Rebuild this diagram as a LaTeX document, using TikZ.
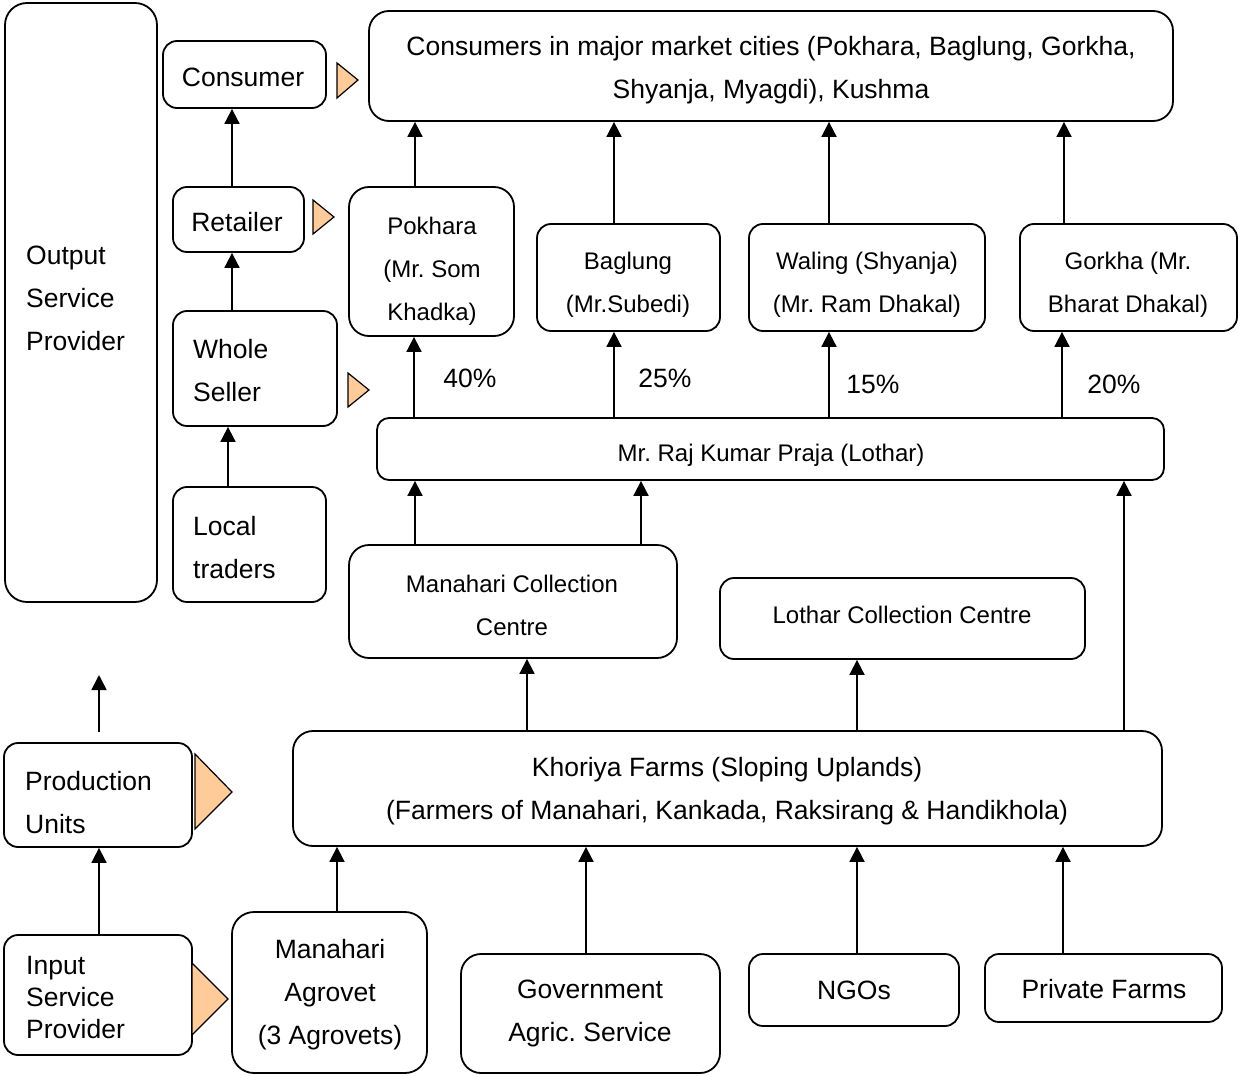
\documentclass[tikz,border=0pt]{standalone}
\usepackage{fontspec}
\setmainfont{Liberation Sans}
\usetikzlibrary{arrows.meta}
\definecolor{tripeach}{RGB}{255,204,153}
\tikzset{
  box/.style={draw, line width=1.8pt, rounded corners=14pt, inner sep=0pt},
  txt/.style={align=center, inner sep=0pt, font=\fontsize{26.5}{43}\selectfont},
  smalltxt/.style={txt, font=\fontsize{24}{43}\selectfont},
  lefttxt/.style={txt, align=left, anchor=west},
  arr/.style={line width=1.8pt, -{Triangle[length=15pt,width=15pt]}},
  marker/.style={draw, line width=1.2pt, fill=tripeach},
}

\begin{document}
\frenchspacing
\begin{tikzpicture}[x=1pt,y=-1pt]
  \useasboundingbox (0,0) rectangle (1238,1075);

  % left column: service providers and traders
  \node [box, rounded corners=22pt, minimum width=152pt, minimum height=599pt] (osp) at (81,302.5) {};
  \node [box, minimum width=163pt, minimum height=67pt] (cons) at (244.5,74.5) {};
  \node [box, minimum width=131pt, minimum height=65pt] (ret) at (238.5,219.5) {};
  \node [box, minimum width=164pt, minimum height=115pt] (whs) at (255,368.5) {};
  \node [box, minimum width=153pt, minimum height=115pt] (lt) at (249.5,544.5) {};
  \node [box, minimum width=188pt, minimum height=104pt] (pu) at (98,795) {};
  \node [box, minimum width=188pt, minimum height=120pt] (isp) at (98,995) {};
  \node [lefttxt] (ospt) at (26,298.5) {Output\\Service\\Provider};
  \node [txt] (const) at (243,77) {Consumer};
  \node [txt] (rett) at (237,222) {Retailer};
  \node [lefttxt] (whst) at (193,370.5) {Whole\\Seller};
  \node [lefttxt] (ltt) at (193,547.5) {Local\\traders};
  \node [lefttxt] (put) at (25,802.5) {Production\\Units};
  \node [lefttxt, font=\fontsize{26.5}{32}\selectfont] (ispt) at (26,997.5) {Input\\Service\\Provider};

  % market and traders
  \node [box, rounded corners=20pt, minimum width=804pt, minimum height=110pt] (mkt) at (771,66) {};
  \node [box, rounded corners=20pt, minimum width=165pt, minimum height=149pt] (pok) at (431.5,261.5) {};
  \node [box, minimum width=183pt, minimum height=107pt] (bag) at (628.5,277.5) {};
  \node [box, minimum width=236pt, minimum height=107pt] (wal) at (867,277.5) {};
  \node [box, minimum width=217pt, minimum height=107pt] (gor) at (1128.5,277.5) {};
  \node [box, rounded corners=12pt, minimum width=787pt, minimum height=62pt] (raj) at (770.5,449) {};
  \node [box, rounded corners=20pt, minimum width=328pt, minimum height=113pt] (mcc) at (513,601.5) {};
  \node [box, minimum width=365pt, minimum height=81pt] (lcc) at (902.5,618.5) {};
  \node [txt] (mktt) at (771,70.5) {Consumers in major market cities (Pokhara, Baglung, Gorkha,\\Shyanja, Myagdi), Kushma};
  \node [smalltxt] (pokt) at (432,271) {Pokhara\\(Mr. Som\\Khadka)};
  \node [smalltxt] (bagt) at (628,284.5) {Baglung\\(Mr.Subedi)};
  \node [smalltxt] (walt) at (867,284.5) {Waling (Shyanja)\\(Mr. Ram Dhakal)};
  \node [smalltxt] (gort) at (1128,284.5) {Gorkha (Mr.\\Bharat Dhakal)};
  \node [smalltxt] (rajt) at (771,455) {Mr. Raj Kumar Praja (Lothar)};
  \node [smalltxt] (mcct) at (512,605.5) {Manahari Collection\\Centre};
  \node [smalltxt] (lcct) at (902,615) {Lothar Collection Centre};

  % farms and inputs
  \node [box, rounded corners=20pt, minimum width=869pt, minimum height=115pt] (kho) at (727.5,788.5) {};
  \node [box, rounded corners=22pt, minimum width=195pt, minimum height=161pt] (agv) at (329.5,992.5) {};
  \node [box, rounded corners=20pt, minimum width=259pt, minimum height=119pt] (gov) at (590.5,1013.5) {};
  \node [box, minimum width=210pt, minimum height=72pt] (ngo) at (854,990) {};
  \node [box, minimum width=237pt, minimum height=68pt] (pvt) at (1103.5,988) {};
  \node [txt] (khot) at (727,791.5) {Khoriya Farms (Sloping Uplands)\\(Farmers of Manahari, Kankada, Raksirang \& Handikhola)};
  \node [txt] (agvt) at (330,994.5) {Manahari\\Agrovet\\(3 Agrovets)};
  \node [txt] (govt) at (590,1013.5) {Government\\Agric. Service};
  \node [txt] (ngot) at (854,990) {NGOs};
  \node [txt] (pvtt) at (1104,989) {Private Farms};

  % markers
  \draw [marker] (337,63) -- (358,80) -- (337,98) -- cycle;
  \draw [marker] (313,200) -- (334,217) -- (313,234) -- cycle;
  \draw [marker] (348,373) -- (369,390) -- (348,407) -- cycle;
  \draw [marker] (195,754) -- (232,792) -- (195,829) -- cycle;
  \draw [marker] (192,963) -- (228,999) -- (192,1035) -- cycle;

  % trader chain
  \draw [arr] (ret.north -| 232,0) -- (cons.south -| 232,0);
  \draw [arr] (whs.north -| 232,0) -- (ret.south -| 232,0);
  \draw [arr] (lt.north -| 228,0) -- (whs.south -| 228,0);

  % to the market cities
  \foreach \n/\x in {pok/415, bag/614, wal/829, gor/1064}
    \draw [arr] (\n.north -| \x,0) -- (mkt.south -| \x,0);
  \foreach \n/\x in {pok/414, bag/614, wal/829, gor/1062}
    \draw [arr] (raj.north -| \x,0) -- (\n.south -| \x,0);
  \node [txt] (p40) at (470,378) {40\%};
  \node [txt] (p25) at (665,378) {25\%};
  \node [txt] (p15) at (873,384) {15\%};
  \node [txt] (p20) at (1114,384) {20\%};

  % collection
  \draw [arr] (mcc.north -| 415,0) -- (raj.south -| 415,0);
  \draw [arr] (mcc.north -| 641,0) -- (raj.south -| 641,0);
  \draw [arr] (kho.north -| 1124,0) -- (raj.south -| 1124,0);
  \draw [arr] (kho.north -| 527,0) -- (mcc.south -| 527,0);
  \draw [arr] (kho.north -| 857,0) -- (lcc.south -| 857,0);

  % inputs
  \draw [arr] (agv.north -| 337,0) -- (kho.south -| 337,0);
  \draw [arr] (gov.north -| 586,0) -- (kho.south -| 586,0);
  \draw [arr] (ngo.north -| 857,0) -- (kho.south -| 857,0);
  \draw [arr] (pvt.north -| 1063,0) -- (kho.south -| 1063,0);
  \draw [arr] (isp.north -| 99,0) -- (pu.south -| 99,0);
  \coordinate (upfrom) at (99,732);
  \coordinate (upto) at (99,675);
  \draw [arr] (upfrom) -- (upto);
\end{tikzpicture}
\end{document}
